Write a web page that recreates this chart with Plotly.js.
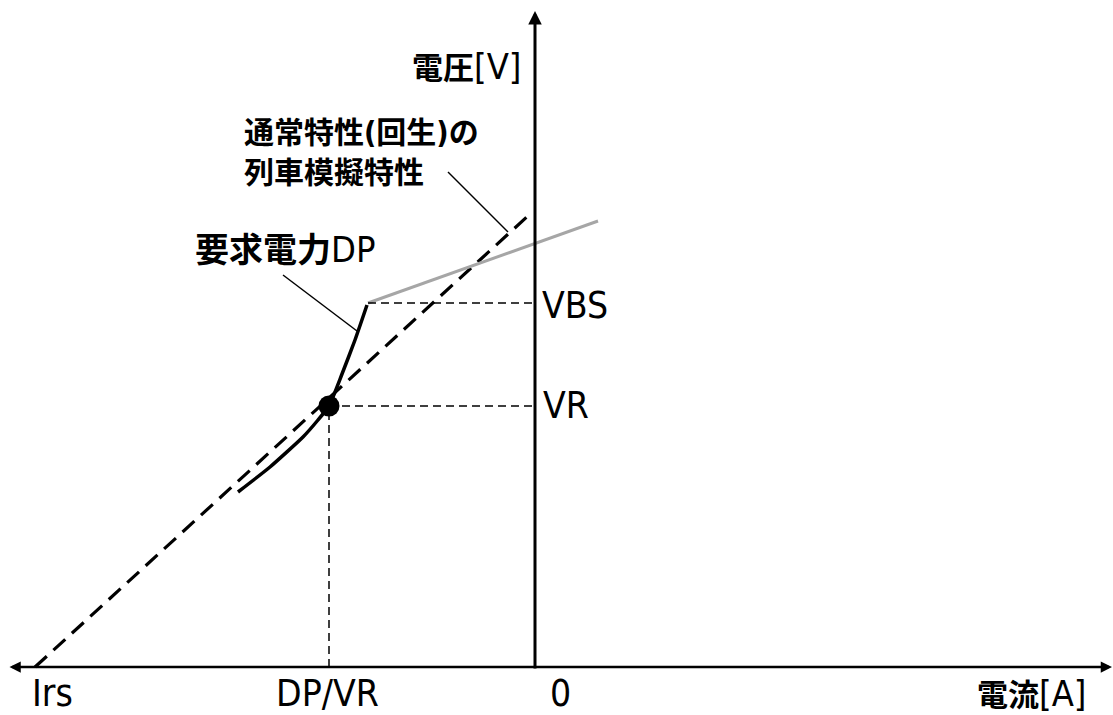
<!DOCTYPE html>
<html>
<head>
<meta charset="utf-8">
<script src="https://cdn.plot.ly/plotly-3.0.1.min.js"></script>
<style>
  html, body { margin: 0; padding: 0; background: #ffffff; }
  #chart { width: 1113px; height: 715px; }
</style>
</head>
<body>
<div id="chart"></div>
<script>
// Characteristic values (current in A-units, voltage in V-units, schematic scale)
const irs = -50;          // regenerative short-circuit current Irs
const dpOverVr = -20.6;   // operating current DP/VR
const vr = 26.1;          // operating voltage VR
const vbs = 36.4;         // voltage VBS

// Normal (regenerative) simulated train characteristic: dashed straight line
const simLineX = [irs, -0.6];
const simLineY = [0, 45.2];

// Grey characteristic above VBS
const greyLineX = [-16.7, 6.3];
const greyLineY = [vbs, 44.6];

// Required-power curve DP
const dpCurveX = [-29.7, -26.5, -23.2, -21.7, dpOverVr, -19.3, -18.0, -16.8];
const dpCurveY = [17.5, 20.0, 23.0, 24.7, vr, 29.3, 32.7, 36.2];

// Tick labels
const xTickLabels = ['Irs', 'DP/VR', '0'];
const yTickLabels = ['VBS', 'VR'];
const xAxisTitle = ['電流', '[A]'];
const yAxisTitle = ['電圧', '[V]'];

const FONT = 'Liberation Sans Narrow, DejaVu Sans Condensed, Noto Sans CJK JP, sans-serif';
const black = '#000000';

// Latin part of a mixed label drawn a little larger than the kanji
function latin(s) {
  return '<span style="font-size:36px">' + s + '</span>';
}

const traces = [
  { // simulated train characteristic
    x: simLineX, y: simLineY, mode: 'lines',
    line: { color: black, width: 3.2, dash: '16px,9px' }
  },
  { // grey characteristic
    x: greyLineX, y: greyLineY, mode: 'lines',
    line: { color: '#a6a6a6', width: 3 }
  },
  { // VBS guide
    x: [greyLineX[0], 0], y: [vbs, vbs], mode: 'lines',
    line: { color: black, width: 1.5, dash: '8px,5px' }
  },
  { // VR guide
    x: [dpOverVr, 0], y: [vr, vr], mode: 'lines',
    line: { color: black, width: 1.5, dash: '8px,5px' }
  },
  { // DP/VR guide
    x: [dpOverVr, dpOverVr], y: [0, vr], mode: 'lines',
    line: { color: black, width: 1.5, dash: '8px,5px' }
  },
  { // required power curve
    x: dpCurveX, y: dpCurveY, mode: 'lines',
    line: { color: black, width: 3.5, shape: 'spline', smoothing: 0.5 }
  },
  { // operating point
    x: [dpOverVr], y: [vr], mode: 'markers',
    marker: { color: black, size: 21 }
  }
];

function label(text, x, y, opts) {
  return Object.assign({
    text: text, x: x, y: y, xref: 'x', yref: 'y', showarrow: false,
    font: { family: FONT, size: 37, color: black }
  }, opts);
}

const annotations = [
  // current axis (double-headed)
  { x: 57.7, y: 0, ax: -52.7, ay: 0, xref: 'x', yref: 'y', axref: 'x', ayref: 'y',
    text: '', showarrow: true, arrowside: 'end+start',
    arrowhead: 2, startarrowhead: 2, arrowsize: 0.9, startarrowsize: 0.9,
    arrowwidth: 2.5, arrowcolor: black, standoff: 0, startstandoff: 0 },
  // voltage axis
  { x: 0, y: 65.6, ax: 0, ay: -0.3, xref: 'x', yref: 'y', axref: 'x', ayref: 'y',
    text: '', showarrow: true, arrowhead: 2, arrowsize: 0.9,
    arrowwidth: 3, arrowcolor: black, standoff: 0 },

  // axis titles
  label('<b>' + yAxisTitle[0] + '</b>' + latin(yAxisTitle[1]), -1.2, 60.1, { xanchor: 'right', yanchor: 'middle',
    font: { family: FONT, size: 31, color: black } }),
  label('<b>' + xAxisTitle[0] + '</b>' + latin(xAxisTitle[1]), 49.6, 0, { xanchor: 'center', yanchor: 'middle', yshift: -26,
    font: { family: FONT, size: 31, color: black } }),

  // x tick labels
  label(xTickLabels[0], irs, 0, { xanchor: 'left', yanchor: 'middle', xshift: -5, yshift: -26 }),
  label(xTickLabels[1], dpOverVr, 0, { xanchor: 'center', yanchor: 'middle', xshift: -2, yshift: -26 }),
  label(xTickLabels[2], 0, 0, { xanchor: 'left', yanchor: 'middle', xshift: 13, yshift: -26 }),

  // y tick labels
  label(yTickLabels[0], 0, vbs, { xanchor: 'left', yanchor: 'middle', xshift: 5, yshift: -2 }),
  label(yTickLabels[1], 0, vr, { xanchor: 'left', yanchor: 'middle', xshift: 6, yshift: 1 }),

  // curve labels
  label('<b>通常特性(回生)の</b>', -29.3, 53.5, { xanchor: 'left', yanchor: 'middle',
    font: { family: FONT, size: 30, color: black } }),
  label('<b>列車模擬特性</b>', -29.3, 49.5, { xanchor: 'left', yanchor: 'middle',
    font: { family: FONT, size: 30, color: black } }),
  label('<b>要求電力</b>' + latin('DP'), -34.2, 41.8, { xanchor: 'left', yanchor: 'middle',
    font: { family: FONT, size: 34, color: black } })
];

const shapes = [
  // leader for the simulated characteristic label
  { type: 'line', xref: 'x', yref: 'y', x0: -8.7, y0: 49.5, x1: -2.7, y1: 43.5,
    line: { color: black, width: 1.5 } },
  // leader for the required power label
  { type: 'line', xref: 'x', yref: 'y', x0: -25.2, y0: 39.2, x1: -17.8, y1: 33.6,
    line: { color: black, width: 1.5 } }
];

const layout = {
  width: 1113, height: 715,
  margin: { l: 0, r: 0, t: 0, b: 0, pad: 0 },
  paper_bgcolor: '#ffffff', plot_bgcolor: '#ffffff',
  showlegend: false,
  xaxis: { range: [-53.5, 57.8], autorange: false, visible: false, fixedrange: true },
  yaxis: { range: [-4.8, 66.7], autorange: false, visible: false, fixedrange: true },
  annotations: annotations,
  shapes: shapes
};

Plotly.newPlot('chart', traces, layout, { staticPlot: true, displayModeBar: false });
</script>
</body>
</html>
